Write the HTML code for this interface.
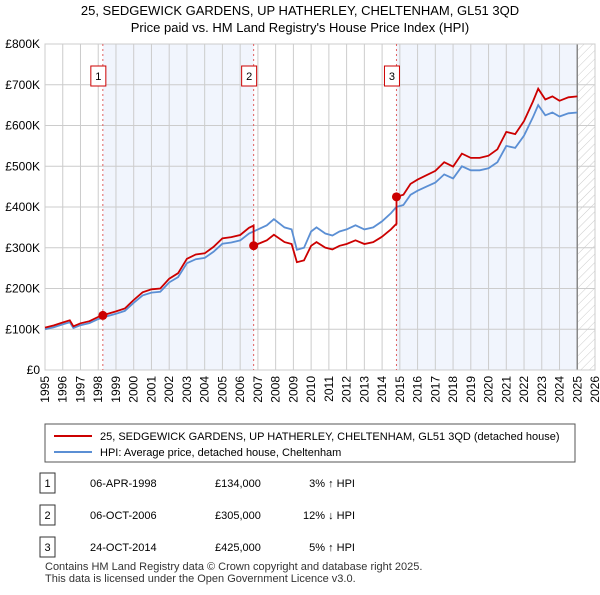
<!DOCTYPE html>
<html><head><meta charset="utf-8"><style>
body{margin:0;background:#fff;font-family:"Liberation Sans",sans-serif;}
</style></head><body>
<svg id="chart" width="600" height="590" xmlns="http://www.w3.org/2000/svg" font-family="Liberation Sans, sans-serif">
<defs><pattern id="hatch" width="6" height="6" patternUnits="userSpaceOnUse" patternTransform="rotate(45)"><line x1="0" y1="0" x2="0" y2="6" stroke="#ccc" stroke-width="1"/></pattern></defs>
<text x="300" y="15" text-anchor="middle" font-size="13">25, SEDGEWICK GARDENS, UP HATHERLEY, CHELTENHAM, GL51 3QD</text>
<text x="300" y="32" text-anchor="middle" font-size="13">Price paid vs. HM Land Registry's House Price Index (HPI)</text>
<g id="plot"></g>
<g>
<rect x="45" y="424" width="530" height="38" fill="#fff" stroke="#555"/>
<line x1="54" y1="436" x2="92" y2="436" stroke="#cc0000" stroke-width="2"/>
<text x="100" y="440" font-size="11">25, SEDGEWICK GARDENS, UP HATHERLEY, CHELTENHAM, GL51 3QD (detached house)</text>
<line x1="54" y1="452" x2="92" y2="452" stroke="#5b8fd4" stroke-width="2"/>
<text x="100" y="456" font-size="11">HPI: Average price, detached house, Cheltenham</text>
</g>
<g id="table" font-size="11"></g>
<text x="45" y="570" font-size="11" fill="#333">Contains HM Land Registry data © Crown copyright and database right 2025.</text>
<text x="45" y="582" font-size="11" fill="#333">This data is licensed under the Open Government Licence v3.0.</text>
</svg>
<script>
const hpiYears=[1995,1995.5,1996,1996.4,1996.6,1997,1997.5,1998,1998.5,1999,1999.5,2000,2000.5,2001,2001.5,2002,2002.5,2003,2003.5,2004,2004.5,2005,2005.5,2006,2006.5,2007,2007.5,2007.9,2008.5,2008.9,2009.2,2009.6,2010,2010.3,2010.8,2011.2,2011.6,2012,2012.5,2013,2013.5,2014,2014.5,2014.8,2015.2,2015.6,2016,2016.5,2017,2017.5,2018,2018.5,2019,2019.5,2020,2020.5,2021,2021.5,2022,2022.5,2022.8,2023.2,2023.6,2024,2024.5,2025];
const hpiValues=[100,105,112,117,103,110,115,125,132,138,145,165,183,190,192,215,228,262,272,275,290,310,313,318,335,345,355,370,350,345,295,300,340,350,335,330,340,345,355,345,350,365,385,400,405,430,440,450,460,480,470,500,490,490,495,510,550,545,575,620,650,625,632,622,630,632];
const saleLabels=["1","2","3"];
const saleYears=[1998.26,2006.76,2014.81];
const salePrices=[134,305,425];
const saleDates=["06-APR-1998","06-OCT-2006","24-OCT-2014"];
const salePriceText=["£134,000","£305,000","£425,000"];
const saleHpiText=["3% ↑ HPI","12% ↓ HPI","5% ↑ HPI"];
const yTicks=[0,100,200,300,400,500,600,700,800];
const yTickLabels=["£0","£100K","£200K","£300K","£400K","£500K","£600K","£700K","£800K"];
const xTicks=[1995,1996,1997,1998,1999,2000,2001,2002,2003,2004,2005,2006,2007,2008,2009,2010,2011,2012,2013,2014,2015,2016,2017,2018,2019,2020,2021,2022,2023,2024,2025,2026];
const dataEnd=2025.0;

const X0=45,X1=595,Y0=370,Y1=44;
const xs=y=>X0+(y-1995)/(2026-1995)*(X1-X0);
const ys=v=>Y0-v/800*(Y0-Y1);
const NS="http://www.w3.org/2000/svg";
const plot=document.getElementById('plot');
function mk(tag,attrs,parent){const e=document.createElementNS(NS,tag);for(const k in attrs)e.setAttribute(k,attrs[k]);(parent||plot).appendChild(e);return e;}
function hpiAt(y){for(let i=1;i<hpiYears.length;i++){if(y<=hpiYears[i]){const t=(y-hpiYears[i-1])/(hpiYears[i]-hpiYears[i-1]);return hpiValues[i-1]+t*(hpiValues[i]-hpiValues[i-1]);}}return hpiValues[hpiValues.length-1];}

let e;
e=mk('rect',{x:X0,y:Y1,width:X1-X0,height:Y0-Y1,fill:'#fff'});


e=mk('rect',{x:xs(saleYears[0]),y:Y1,width:xs(saleYears[1])-xs(saleYears[0]),height:Y0-Y1,fill:'#eef3fc',opacity:0.8});


e=mk('rect',{x:xs(saleYears[2]),y:Y1,width:xs(dataEnd)-xs(saleYears[2]),height:Y0-Y1,fill:'#eef3fc',opacity:0.8});


e=mk('rect',{x:xs(dataEnd),y:Y1,width:X1-xs(dataEnd),height:Y0-Y1,fill:'url(#hatch)'});


yTicks.forEach((t,i)=>{
 e=mk('line',{x1:X0,x2:X1,y1:ys(t),y2:ys(t),stroke:'#ccc'});
 
 
 e=mk('text',{x:40,y:ys(t)+4,'text-anchor':'end','font-size':12});
 
 
 e.textContent=yTickLabels[i];
});
xTicks.forEach(t=>{
 e=mk('line',{x1:xs(t),x2:xs(t),y1:Y1,y2:Y0,stroke:'#ccc'});
 
 
 e=mk('text',{x:0,y:0,'text-anchor':'end','font-size':12,transform:`translate(${xs(t)+4},376) rotate(-90)`});
 
 
 e.textContent=t;
});
e=mk('line',{x1:xs(dataEnd),x2:xs(dataEnd),y1:Y1,y2:Y0,stroke:'#888','stroke-width':1.5});


e=mk('rect',{x:X0,y:Y1,width:X1-X0,height:Y0-Y1,fill:'none',stroke:'#ccc'});


saleYears.forEach((sy,i)=>{
 e=mk('line',{x1:xs(sy),x2:xs(sy),y1:Y1,y2:Y0,stroke:'#e06060','stroke-dasharray':'2,3'});
 
 
 e=mk('rect',{x:xs(sy)-12,y:66,width:15,height:20,fill:'#fff',stroke:'#cc0000'});
 
 
 e=mk('text',{x:xs(sy)-4.5,y:80,'text-anchor':'middle','font-size':11});
 
 
 e.textContent=saleLabels[i];
});
let d=hpiYears.map((y,i)=>(i?'L':'M')+xs(y).toFixed(1)+','+ys(hpiValues[i]).toFixed(1)).join('');
e=mk('path',{d:d,fill:'none',stroke:'#5b8fd4','stroke-width':1.8});


function seg(i){const lo=i===0?1995:saleYears[i];const hi=i===saleYears.length-1?dataEnd:saleYears[i+1];const f=salePrices[i]/hpiAt(saleYears[i]);const pts=[[lo,hpiAt(lo)*f]];hpiYears.forEach((y,k)=>{if(y>lo&&y<hi)pts.push([y,hpiValues[k]*f]);});pts.push([hi,hpiAt(hi)*f]);return pts;}
let rd='';
saleYears.forEach((s,i)=>{const p=seg(i);p.forEach(q=>{rd+=(rd===''?'M':'L')+xs(q[0]).toFixed(1)+','+ys(q[1]).toFixed(1);});});
e=mk('path',{d:rd,fill:'none',stroke:'#cc0000','stroke-width':1.8});


saleYears.forEach((sy,i)=>{
 e=mk('circle',{cx:xs(sy),cy:ys(salePrices[i]),r:4.5,fill:'#cc0000'});
 
 
});
const tb=document.getElementById('table');
saleLabels.forEach((l,i)=>{
 const y=483+i*32;
 e=mk('rect',{x:40,y:y-10,width:15,height:20,fill:'#fff',stroke:'#333'},tb);
 
 
 const cols=[[47.5,l,'middle'],[90,saleDates[i],'start'],[215,salePriceText[i],'start'],[355,saleHpiText[i],'end']];
 cols.forEach(c=>{e=mk('text',{x:c[0],y:y+4,'text-anchor':c[2]},tb);
  
  
  e.textContent=c[1];});
});
</script>
</body></html>
